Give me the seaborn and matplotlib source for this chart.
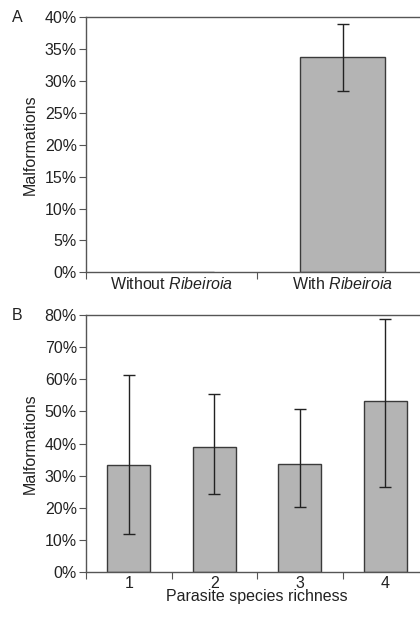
import numpy as np
import pandas as pd
import matplotlib
matplotlib.use("Agg")
import matplotlib.pyplot as plt
import seaborn as sns
from matplotlib.ticker import FixedLocator, PercentFormatter

sns.set_theme(style="white")
plt.rcParams['font.family'] = ['Liberation Sans', 'DejaVu Sans']
plt.rcParams['mathtext.fontset'] = 'custom'
plt.rcParams['mathtext.rm'] = 'Liberation Sans'
plt.rcParams['mathtext.it'] = 'Liberation Sans:italic'

# Panel A data
ribeiroia_groups = ["Without", "With"]
ribeiroia_mean = [0.0, 33.7]
ribeiroia_low = [0.0, 28.4]
ribeiroia_high = [0.0, 38.9]

# Panel B data
richness = ["1", "2", "3", "4"]
richness_mean = [33.4, 38.9, 33.5, 53.3]
richness_low = [11.9, 24.2, 20.1, 26.5]
richness_high = [61.4, 55.4, 50.7, 78.7]

BAR_COLOR = "#b4b4b4"
EDGE = "#3a3a3a"
SPINE = "#555555"
TXT = "#222222"
FS = 11.5

fig = plt.figure(figsize=(4.2, 6.17), dpi=100)
axA = fig.add_axes([86 / 420, 1 - 272.3 / 617, 342 / 420, 255 / 617])
axB = fig.add_axes([86 / 420, 1 - 571.7 / 617, 342 / 420, 256.4 / 617])


def draw_panel(ax, cats, mean, low, high, ymax, ystep):
    df = pd.DataFrame({"cat": cats, "val": mean})
    sns.barplot(data=df, x="cat", y="val", ax=ax, color=BAR_COLOR,
                edgecolor=EDGE, linewidth=1.0, width=0.5, saturation=1,
                errorbar=None)
    pos = np.arange(len(cats))
    m = np.array(mean)
    lo = m - np.array(low)
    hi = np.array(high) - m
    show = m > 0
    ax.errorbar(pos[show], m[show], yerr=[lo[show], hi[show]], fmt="none",
                ecolor=TXT, elinewidth=1.0, capsize=4, capthick=1.0)
    ax.set_xlim(-0.5, len(cats) - 0.5)
    ax.set_ylim(0, ymax)
    ax.yaxis.set_major_locator(FixedLocator(np.arange(0, ymax + 0.1, ystep)))
    ax.yaxis.set_major_formatter(PercentFormatter(decimals=0))
    ax.set_ylabel("Malformations", fontsize=FS, color=TXT, labelpad=5)
    ax.set_xlabel("")
    # ticks at category boundaries, labels at centres
    ax.set_xticks(np.arange(-0.5, len(cats), 1.0))
    ax.set_xticklabels([])
    ax.set_xticks(pos, minor=True)
    ax.tick_params(axis="x", which="major", direction="out", length=5,
                   width=0.8, color=SPINE, bottom=True)
    ax.tick_params(axis="x", which="minor", length=0, labelsize=FS,
                   labelcolor=TXT, pad=3, bottom=True)
    ax.tick_params(axis="y", direction="out", length=5, width=0.8,
                   color=SPINE, left=True, labelsize=FS, labelcolor=TXT,
                   pad=1.5)
    for side in ["left", "top", "bottom"]:
        ax.spines[side].set_visible(True)
        ax.spines[side].set_color(SPINE)
        ax.spines[side].set_linewidth(1.0)
    ax.spines["right"].set_visible(False)


draw_panel(axA, ribeiroia_groups, ribeiroia_mean, ribeiroia_low,
           ribeiroia_high, 40, 5)
axA.set_xticklabels(["Without $\\it{Ribeiroia}$", "With $\\it{Ribeiroia}$"],
                    minor=True)

draw_panel(axB, richness, richness_mean, richness_low, richness_high, 80, 10)
axB.set_xticklabels(richness, minor=True)
axB.set_xlabel("Parasite species richness", fontsize=FS, color=TXT,
               labelpad=-1)

fig.text(17 / 420, 1 - 17 / 617, "A", fontsize=FS, color=TXT,
         ha="center", va="center")
fig.text(17 / 420, 1 - 315 / 617, "B", fontsize=FS, color=TXT,
         ha="center", va="center")

fig.savefig("out.png", dpi=100)
